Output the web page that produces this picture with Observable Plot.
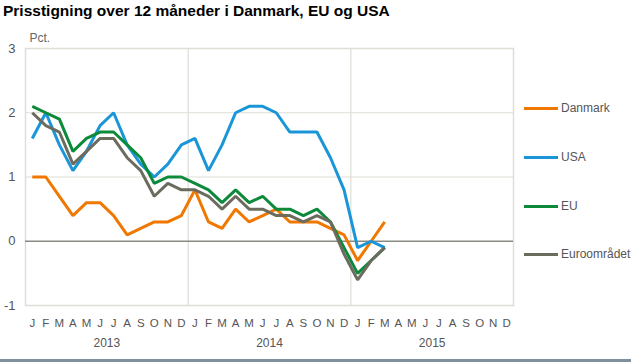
<!DOCTYPE html>
<html>
<head>
<meta charset="utf-8">
<script src="https://cdn.jsdelivr.net/npm/d3@7"></script>
<script src="https://cdn.jsdelivr.net/npm/@observablehq/plot@0.6"></script>
<style>
  html, body { margin: 0; padding: 0; background: #fff; }
  #wrap { position: relative; width: 631px; height: 362px; overflow: hidden; font-family: "Liberation Sans", Arial, sans-serif; }
  #title { height: 24px; line-height: 22px; padding-left: 3px; font-size: 15.5px; font-weight: bold; color: #000; white-space: nowrap; }
  #legend { position: absolute; left: 524px; top: 0; }
  .item { position: absolute; left: 0; white-space: nowrap; font-size: 12px; color: #555; display: flex; align-items: center; }
  .item span.sw { display: inline-block; width: 34px; height: 3px; margin-right: 3px; }
  #bottomline { position: absolute; left: 0; top: 359px; width: 631px; height: 3px; background: #7f8f9c; }
</style>
</head>
<body>
<div id="wrap">
  <div id="title">Prisstigning over 12 måneder i Danmark, EU og USA</div>
  <div id="chart"></div>
  <div id="legend"></div>
  <div id="bottomline"></div>
</div>
<script>
const months = ["J","F","M","A","M","J","J","A","S","O","N","D"];
const years = ["2013", "2014", "2015"];
const yTicks = [-1, 0, 1, 2, 3];
const seriesNames = ["Danmark", "USA", "EU", "Euroområdet"];
const seriesColors = ["#f07800", "#1a96d8", "#0c8a3a", "#6b6b5e"];

const danmark = [1.0,1.0,0.7,0.4,0.6,0.6,0.4,0.1,0.2,0.3,0.3,0.4, 0.8,0.3,0.2,0.5,0.3,0.4,0.5,0.3,0.3,0.3,0.2,0.1, -0.3,0.0,0.3];
const usa     = [1.6,2.0,1.5,1.1,1.4,1.8,2.0,1.5,1.2,1.0,1.2,1.5, 1.6,1.1,1.5,2.0,2.1,2.1,2.0,1.7,1.7,1.7,1.3,0.8, -0.1,0.0,-0.1];
const eu      = [2.1,2.0,1.9,1.4,1.6,1.7,1.7,1.5,1.3,0.9,1.0,1.0, 0.9,0.8,0.6,0.8,0.6,0.7,0.5,0.5,0.4,0.5,0.3,-0.1, -0.5,-0.3,-0.1];
const euro    = [2.0,1.8,1.7,1.2,1.4,1.6,1.6,1.3,1.1,0.7,0.9,0.8, 0.8,0.7,0.5,0.7,0.5,0.5,0.4,0.4,0.3,0.4,0.3,-0.2, -0.6,-0.3,-0.1];

const seriesValues = [danmark, usa, eu, euro];
const rows = [];
seriesValues.forEach((vals, s) => vals.forEach((v, i) => rows.push({series: seriesNames[s], i, v})));

const nMonths = months.length * years.length;
const monthIdx = d3.range(nMonths);
const yearBreaks = d3.range(1, years.length).map(k => k * months.length - 0.5);
const yearCenters = years.map((y, k) => ({label: y, x: k * months.length + (months.length - 1) / 2}));

const gridCol = "#deded6";

const chart = Plot.plot({
  width: 631,
  height: 338,
  marginLeft: 25,
  marginRight: 118,
  marginTop: 24,
  marginBottom: 57,
  style: {fontFamily: "'Liberation Sans', Arial, sans-serif", background: "#fff"},
  x: {domain: [-0.5, nMonths - 0.5], axis: null, label: null},
  y: {domain: [-1, 3], axis: null, label: null},
  color: {domain: seriesNames, range: seriesColors},
  marks: [
    Plot.gridY([1, 2], {stroke: gridCol, strokeOpacity: 1, strokeWidth: 1.2}),
    Plot.ruleX(yearBreaks, {stroke: gridCol, strokeWidth: 1.2}),
    Plot.frame({stroke: gridCol, strokeWidth: 1.5}),
    Plot.ruleY([0], {stroke: "#8a8a84", strokeWidth: 1.5}),
    Plot.axisY(yTicks, {label: null, tickSize: 0, tickPadding: 10, fontSize: 13, fill: "#555", tickFormat: d => String(d)}),
    Plot.text(["Pct."], {frameAnchor: "top-left", dx: 4, dy: -15, fontSize: 12, fill: "#666", textAnchor: "start"}),
    Plot.axisX(monthIdx, {label: null, tickSize: 0, tickPadding: 13, fontSize: 11.5, fill: "#555", tickFormat: i => months[i % 12]}),
    Plot.text(yearCenters, {x: "x", text: "label", frameAnchor: "bottom", dy: 41, fontSize: 12, fill: "#555"}),
    Plot.line(rows, {x: "i", y: "v", z: "series", stroke: "series", strokeWidth: 3, strokeLinejoin: "miter", strokeLinecap: "butt"})
  ]
});
document.getElementById("chart").appendChild(chart);

const legendTops = [108, 157, 206, 254];
const legend = document.getElementById("legend");
seriesNames.forEach((name, k) => {
  const d = document.createElement("div");
  d.className = "item";
  d.style.top = (legendTops[k] - 7) + "px";
  d.innerHTML = `<span class="sw" style="background:${seriesColors[k]}"></span>${name}`;
  legend.appendChild(d);
});
</script>
</body>
</html>
